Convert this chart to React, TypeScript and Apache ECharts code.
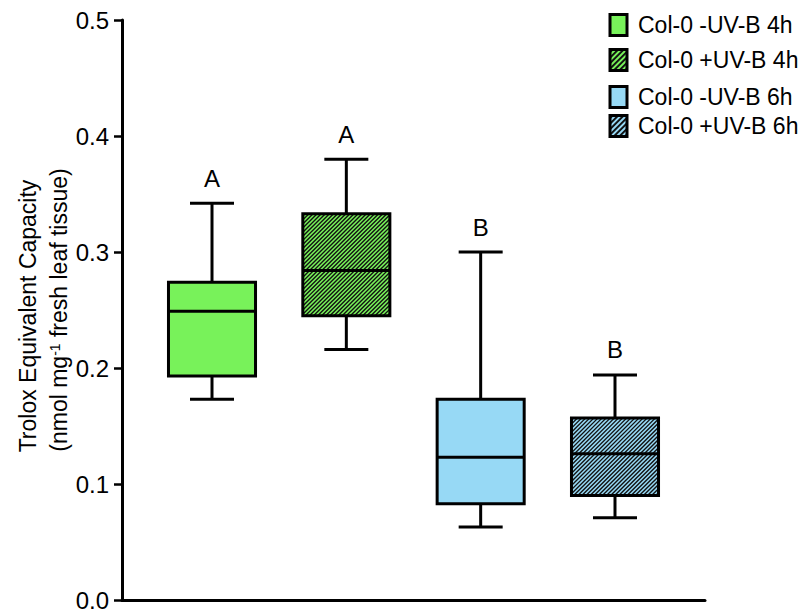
import React, { useEffect, useRef } from "react";
import * as echarts from "echarts";

// ---- data ----
const categories = ["Col-0 -UV-B 4h", "Col-0 +UV-B 4h", "Col-0 -UV-B 6h", "Col-0 +UV-B 6h"];
const whiskerLow = [0.173, 0.216, 0.063, 0.071];
const q1 = [0.193, 0.245, 0.083, 0.090];
const median = [0.249, 0.284, 0.123, 0.126];
const q3 = [0.274, 0.333, 0.173, 0.157];
const whiskerHigh = [0.342, 0.380, 0.300, 0.194];
const letters = ["A", "A", "B", "B"];
const fills = ["#78F25A", "#78F25A", "#97D9F5", "#97D9F5"];
const hatched = [false, true, false, true];
const yTickLabels = ["0.0", "0.1", "0.2", "0.3", "0.4", "0.5"];

const FONT = "'Liberation Sans', Arial, Helvetica, sans-serif";

function hatchLines(x0: number, y0: number, w: number, h: number, step: number, style: any) {
  const out: any[] = [];
  const x1 = x0 + w, y1 = y0 + h;
  for (let c = x0 + y0 + step / 2; c < x1 + y1; c += step) {
    const xa = Math.max(x0, c - y1), xb = Math.min(x1, c - y0);
    if (xb > xa) out.push({ type: "line", shape: { x1: xa, y1: c - xa, x2: xb, y2: c - xb }, style });
  }
  return out;
}

export default function App() {
  const ref = useRef<HTMLDivElement>(null);
  useEffect(() => {
    const chart = echarts.init(ref.current!, null, { renderer: "svg" });
    const data = categories.map((_, i) => [i + 1, whiskerLow[i], q1[i], median[i], q3[i], whiskerHigh[i], i]);

    const legendRows = [25, 60, 97, 126];
    const legendGraphics: any[] = [];
    categories.forEach((name, i) => {
      const lx = 610, ly = legendRows[i] - 10.5, lw = 17, lh = 21;
      legendGraphics.push({ type: "rect", shape: { x: lx, y: ly, width: lw, height: lh }, style: { fill: fills[i], stroke: "none" } });
      if (hatched[i]) {
        hatchLines(lx, ly, lw, lh, 5.5, { stroke: "#111", lineWidth: 1.8 }).forEach((l) => legendGraphics.push(l));
      }
      legendGraphics.push({ type: "rect", shape: { x: lx, y: ly, width: lw, height: lh }, style: { fill: "none", stroke: "#000", lineWidth: 3 } });
      legendGraphics.push({
        type: "text", x: 638, y: legendRows[i],
        style: { text: name, fontSize: 23, fontFamily: FONT, fill: "#000", textVerticalAlign: "middle", textAlign: "left" },
      });
    });

    const option: any = {
      animation: false,
      backgroundColor: "#fff",
      grid: { left: 122, right: 105, top: 20, bottom: 11, containLabel: false },
      xAxis: {
        type: "value", min: 0.33, max: 4.67,
        axisLine: { show: true, onZero: false, lineStyle: { color: "#000", width: 3 } },
        axisTick: { show: false }, axisLabel: { show: false }, splitLine: { show: false },
      },
      yAxis: {
        type: "value", min: 0, max: 0.5, interval: 0.1,
        axisLine: { show: true, lineStyle: { color: "#000", width: 3 } },
        axisTick: { show: true, length: 8, lineStyle: { color: "#000", width: 2.5 } },
        axisLabel: {
          fontSize: 24, fontFamily: FONT, color: "#000", margin: 13,
          formatter: (v: number) => yTickLabels[Math.round(v * 10)] ?? v.toFixed(1),
        },
        splitLine: { show: false },
      },
      graphic: [
        {
          type: "text", x: 28, y: 316, rotation: Math.PI / 2,
          style: { text: "Trolox Equivalent Capacity", fontSize: 23, fontFamily: FONT, fill: "#000", textAlign: "center", textVerticalAlign: "middle" },
        },
        {
          type: "text", x: 59, y: 310, rotation: Math.PI / 2,
          style: {
            text: "(nmol mg{sup|-1} fresh leaf tissue)", fontSize: 23, fontFamily: FONT, fill: "#000",
            textAlign: "center", textVerticalAlign: "middle",
            rich: { sup: { fontSize: 14, fontFamily: FONT, fill: "#000", verticalAlign: "top", lineHeight: 14, padding: [0, 0, 10, 0] } },
          },
        },
        ...legendGraphics,
      ],
      series: [
        {
          type: "custom",
          data,
          encode: { x: 0, y: [1, 2, 3, 4, 5] },
          renderItem: (params: any, api: any) => {
            const x = api.value(0);
            const idx = api.value(6);
            const pLow = api.coord([x, api.value(1)]);
            const pQ1 = api.coord([x, api.value(2)]);
            const pMed = api.coord([x, api.value(3)]);
            const pQ3 = api.coord([x, api.value(4)]);
            const pHigh = api.coord([x, api.value(5)]);
            const bw = api.size([0.648, 0])[0];
            const half = bw / 2;
            const cap = 22;
            const cx = pMed[0];
            const line = { stroke: "#000", lineWidth: 3 };
            const children: any[] = [
              { type: "line", shape: { x1: cx, y1: pHigh[1], x2: cx, y2: pQ3[1] }, style: line },
              { type: "line", shape: { x1: cx, y1: pQ1[1], x2: cx, y2: pLow[1] }, style: line },
              { type: "line", shape: { x1: cx - cap, y1: pHigh[1], x2: cx + cap, y2: pHigh[1] }, style: line },
              { type: "line", shape: { x1: cx - cap, y1: pLow[1], x2: cx + cap, y2: pLow[1] }, style: line },
              { type: "rect", shape: { x: cx - half, y: pQ3[1], width: bw, height: pQ1[1] - pQ3[1] }, style: { fill: fills[idx], stroke: "none" } },
            ];
            if (hatched[idx]) {
              hatchLines(cx - half, pQ3[1], bw, pQ1[1] - pQ3[1], 4.1, { stroke: "#111", lineWidth: 1.4 }).forEach((l) => children.push(l));
            }
            children.push({ type: "rect", shape: { x: cx - half, y: pQ3[1], width: bw, height: pQ1[1] - pQ3[1] }, style: { fill: "none", stroke: "#000", lineWidth: 3 } });
            children.push({ type: "line", shape: { x1: cx - half, y1: pMed[1], x2: cx + half, y2: pMed[1] }, style: line });
            children.push({
              type: "text", x: cx, y: pHigh[1] - 25,
              style: { text: letters[idx], fontSize: 24, fontFamily: FONT, fill: "#000", textAlign: "center", textVerticalAlign: "middle" },
            });
            return { type: "group", children };
          },
        },
      ],
    };
    chart.setOption(option);
    return () => chart.dispose();
  }, []);
  return <div ref={ref} style={{ position: "fixed", left: 0, top: 0, width: 810, height: 612 }} />;
}
